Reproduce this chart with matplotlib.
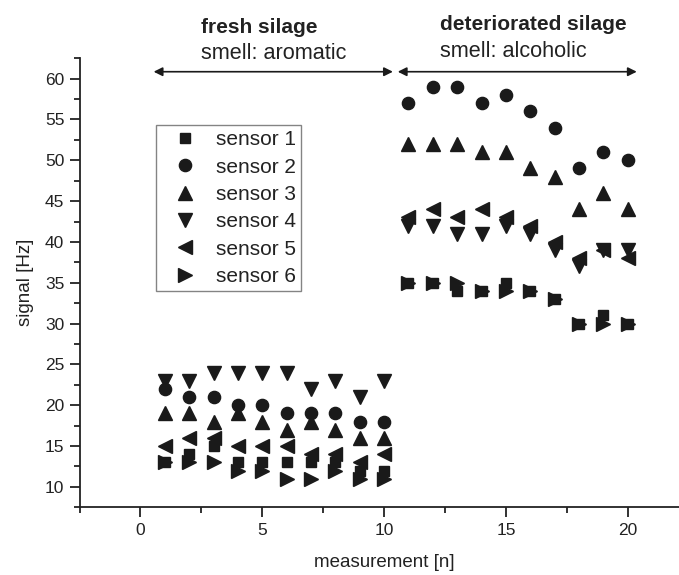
import matplotlib.pyplot as plt
from matplotlib.ticker import MultipleLocator

plt.rcParams['font.family'] = ['Liberation Sans', 'DejaVu Sans']

# measurement numbers
fresh_n = [1, 2, 3, 4, 5, 6, 7, 8, 9, 10]
deter_n = [11, 12, 13, 14, 15, 16, 17, 18, 19, 20]
measurement = fresh_n + deter_n

# sensor signals [Hz]
sensor_1 = [13, 14, 15, 13, 13, 13, 13, 13, 12, 12,
            35, 35, 34, 34, 35, 34, 33, 30, 31, 30]
sensor_2 = [22, 21, 21, 20, 20, 19, 19, 19, 18, 18,
            57, 59, 59, 57, 58, 56, 54, 49, 51, 50]
sensor_3 = [19, 19, 18, 19, 18, 17, 18, 17, 16, 16,
            52, 52, 52, 51, 51, 49, 48, 44, 46, 44]
sensor_4 = [23, 23, 24, 24, 24, 24, 22, 23, 21, 23,
            42, 42, 41, 41, 42, 41, 39, 37, 39, 39]
sensor_5 = [15, 16, 16, 15, 15, 15, 14, 14, 13, 14,
            43, 44, 43, 44, 43, 42, 40, 38, 39, 38]
sensor_6 = [13, 13, 13, 12, 12, 11, 11, 12, 11, 11,
            35, 35, 35, 34, 34, 34, 33, 30, 30, 30]

sensors = [sensor_1, sensor_2, sensor_3, sensor_4, sensor_5, sensor_6]
labels = ['sensor 1', 'sensor 2', 'sensor 3', 'sensor 4', 'sensor 5', 'sensor 6']
markers = ['s', 'o', '^', 'v', '<', '>']
sizes = [7.7, 8.8, 9.8, 9.8, 9.8, 9.8]

fig = plt.figure(figsize=(6.79, 5.75), dpi=100)
# axes run a bit past the right edge, like the cropped original
ax = fig.add_axes([0.1172, 0.1177, 0.897, 0.781])

ink = '#1a1a1a'
txt = '#222222'
for vals, lab, m, s in zip(sensors, labels, markers, sizes):
    ax.plot(measurement, vals, linestyle='none', marker=m, ms=s,
            color=ink, label=lab)

ax.set_xlim(-2.5, 22.5)
ax.set_ylim(7.5, 62.5)
ax.xaxis.set_major_locator(MultipleLocator(5))
ax.xaxis.set_minor_locator(MultipleLocator(2.5))
ax.yaxis.set_major_locator(MultipleLocator(5))
ax.yaxis.set_minor_locator(MultipleLocator(2.5))

for side in ['top', 'right']:
    ax.spines[side].set_visible(False)
for side in ['left', 'bottom']:
    ax.spines[side].set_linewidth(1.3)
    ax.spines[side].set_color(txt)

ax.tick_params(which='major', length=7, width=1.3, labelsize=12.5,
               colors=txt, pad=4)
ax.tick_params(which='minor', length=4, width=1.3, colors=txt)

ax.set_xlabel('measurement [n]', fontsize=13.5, color=txt, labelpad=12)
ax.set_ylabel('signal [Hz]', fontsize=13.5, color=txt, labelpad=8)

# range arrows above the groups
arrow = dict(arrowstyle='<|-|>', color=ink, lw=1.2, mutation_scale=13,
             shrinkA=0, shrinkB=0)
ax.annotate('', xy=(0.54, 60.85), xytext=(10.36, 60.85), arrowprops=arrow,
            annotation_clip=False)
ax.annotate('', xy=(10.56, 60.85), xytext=(20.37, 60.85), arrowprops=arrow,
            annotation_clip=False)

ax.text(2.48, 65.65, 'fresh silage', fontsize=15, fontweight='bold',
        color=txt, va='baseline', clip_on=False)
ax.text(2.48, 62.38, 'smell: aromatic', fontsize=15.6, color=txt,
        va='baseline', clip_on=False)
ax.text(12.3, 65.98, 'deteriorated silage', fontsize=15, fontweight='bold',
        color=txt, va='baseline', clip_on=False)
ax.text(12.3, 62.6, 'smell: alcoholic', fontsize=15.6, color=txt,
        va='baseline', clip_on=False)

leg = ax.legend(loc='upper left', bbox_to_anchor=(0.125, 0.851),
                borderaxespad=0, fancybox=False, frameon=True,
                fontsize=15, labelspacing=0.4, handletextpad=0.35,
                borderpad=0.25, handlelength=2.3)
leg.get_frame().set_edgecolor('#666666')
leg.get_frame().set_linewidth(1.0)
for t in leg.get_texts():
    t.set_color(txt)

fig.savefig('out.png', dpi=100)
